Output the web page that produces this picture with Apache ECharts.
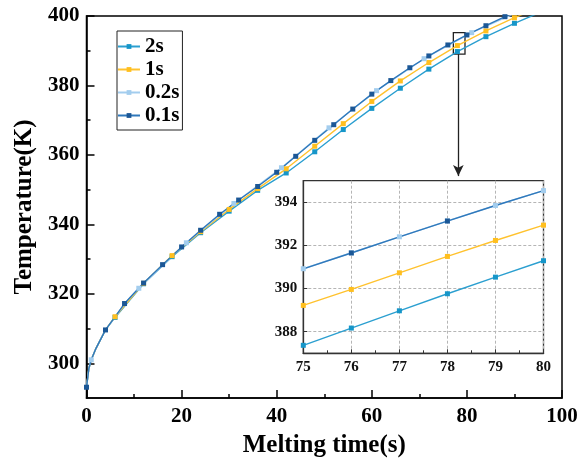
<!DOCTYPE html>
<html>
<head>
<meta charset="utf-8">
<script src="https://cdn.jsdelivr.net/npm/echarts@6/dist/echarts.min.js"></script>
<style>
  html, body { margin: 0; padding: 0; background: #fff; }
  #chart { width: 587px; height: 463px; }
</style>
</head>
<body>
<div id="chart"></div>
<script>
// ---------- data ----------
const seriesNames = ['2s', '1s', '0.2s', '0.1s'];

// main chart: 2s
const time2 = [0, 0.5, 1, 2, 4, 6, 12, 18, 24, 30, 36, 42, 48, 54, 60, 66, 72, 78, 84, 90, 96];
const temp2 = [293.1, 298.5, 301.0, 304.3, 309.6, 313.2, 322.9, 330.7, 337.6, 343.8, 349.8, 354.8, 360.9, 367.3, 373.4, 379.2, 384.7, 389.76, 394.05, 397.9, 401.4];
const marks2 = [6, 12, 18, 24, 30, 36, 42, 48, 54, 60, 66, 72, 78, 84, 90];

// main chart: 1s
const time1 = [0, 0.5, 1, 2, 4, 6, 12, 18, 24, 30, 36, 42, 48, 54, 60, 66, 72, 78, 84, 90, 96];
const temp1 = [293.1, 298.5, 301.0, 304.3, 309.6, 313.4, 323.0, 331.0, 337.9, 344.3, 350.3, 356.0, 362.5, 369.0, 375.4, 381.3, 386.6, 391.49, 395.7, 399.5, 403.0];
const marks1 = [6, 12, 18, 24, 30, 36, 42, 48, 54, 60, 66, 72, 78, 84, 90];

// main chart: 0.2s
const time02 = [0, 0.5, 1, 2, 4, 6, 8, 11, 21, 31, 41, 51, 61, 71, 81, 91];
const temp02 = [293.1, 298.5, 301.0, 304.3, 309.6, 313.3, 317.2, 321.6, 334.7, 346.0, 356.3, 367.8, 378.5, 387.7, 395.2, 401.3];
const marks02 = [1, 11, 21, 31, 41, 51, 61, 71, 81, 91];

// main chart: 0.1s
const time01 = [0, 0.5, 1, 2, 4, 8, 12, 16, 20, 24, 28, 32, 36, 40, 44, 48, 52, 56, 60, 64, 68, 72, 76, 80, 84, 88, 92];
const temp01 = [293.1, 298.5, 301.0, 304.3, 309.6, 317.2, 323.1, 328.4, 333.5, 338.3, 342.9, 347.0, 350.9, 355.0, 359.6, 364.2, 368.7, 373.2, 377.5, 381.4, 385.1, 388.5, 391.66, 394.54, 397.2, 399.8, 402.3];
const marks01 = [0, 4, 8, 12, 16, 20, 24, 28, 32, 36, 40, 44, 48, 52, 56, 60, 64, 68, 72, 76, 80, 84, 88];

// inset (zoom 75-80 s)
const insetTime = [75, 76, 77, 78, 79, 80];
const inset2 = [387.37, 388.17, 388.97, 389.76, 390.53, 391.29];
const inset1 = [389.22, 389.96, 390.73, 391.49, 392.23, 392.94];
const inset02 = [390.92, 391.66, 392.40, 393.14, 393.85, 394.54];
const inset01 = [390.91, 391.65, 392.40, 393.13, 393.85, 394.54];
const insetMarks02 = [75, 76, 77, 78, 79, 80];
const insetMarks01 = [76, 78];

// tick labels
const mainXTicks = [0, 20, 40, 60, 80, 100];
const mainYMajor = [300, 320, 340, 360, 380, 400];
const mainYMinor = [310, 330, 350, 370, 390];
const insetYTicks = [388, 390, 392, 394];

// zoom box and arrow (data coordinates of the annotation)
const zoomBox = [[77.15, 389.0], [79.6, 395.2]];
const arrowFrom = [78.2, 389.0];
const arrowTo = [78.2, 353.9];

// ---------- styling ----------
const FONT = "'Liberation Serif', 'Times New Roman', serif";
const lineColors = ['#2b9fd0', '#ffc22e', '#a3cdee', '#2f78bb'];
const markColors = ['#1696c9', '#ffbf1f', '#a3cdee', '#1b5796'];

function build(times, temps, marks) {
  return times.map((t, i) => ({
    value: [t, temps[i]],
    symbol: marks.indexOf(t) >= 0 ? 'rect' : 'none'
  }));
}

function mkSeries(idx, times, temps, marks, xi, yi, extra) {
  return Object.assign({
    name: seriesNames[idx],
    type: 'line',
    xAxisIndex: xi,
    yAxisIndex: yi,
    data: build(times, temps, marks),
    symbol: 'rect',
    symbolSize: 5,
    showAllSymbol: true,
    smooth: false,
    clip: true,
    lineStyle: { color: lineColors[idx], width: 1.4 },
    itemStyle: { color: markColors[idx] },
    emphasis: { disabled: true },
    animation: false
  }, extra || {});
}

const chart = echarts.init(document.getElementById('chart'), null, { renderer: 'canvas' });

const option = {
  animation: false,
  backgroundColor: '#fff',
  textStyle: { fontFamily: FONT },
  grid: [
    { left: 86.5, top: 16, width: 475.5, height: 383, show: true, borderColor: '#000', borderWidth: 1.5, backgroundColor: 'transparent' },
    { left: 303.3, top: 180.7, width: 240.2, height: 172.6, show: true, borderColor: '#333', borderWidth: 1.3, backgroundColor: '#fff', z: 5 }
  ],
  legend: {
    data: seriesNames,
    orient: 'vertical',
    left: 117,
    top: 31,
    borderColor: '#222',
    borderWidth: 1,
    padding: [5, 3, 4, 0],
    itemWidth: 22,
    itemHeight: 6,
    itemGap: 2,
    textStyle: { fontFamily: FONT, fontWeight: 'bold', fontSize: 21, color: '#000', lineHeight: 21 }
  },
  xAxis: [
    {
      type: 'value', gridIndex: 0, min: 0, max: 100, interval: 20,
      name: 'Melting time(s)', nameLocation: 'middle', nameGap: 35,
      nameTextStyle: { fontFamily: FONT, fontWeight: 'bold', fontSize: 25, color: '#000' },
      axisLine: { show: true, lineStyle: { color: '#000', width: 1.5 } },
      axisTick: { show: true, inside: true, length: 8, lineStyle: { color: '#000', width: 1.5 } },
      minorTick: { show: true, splitNumber: 2, length: 4, lineStyle: { color: '#000', width: 1.5 } },
      axisLabel: { margin: 8, fontFamily: FONT, fontWeight: 'bold', fontSize: 21, color: '#000' },
      splitLine: { show: false }
    },
    {
      type: 'value', gridIndex: 1, min: 75, max: 80, interval: 1,
      axisLine: { show: true, lineStyle: { color: '#333', width: 1.3 } },
      axisTick: { show: true, inside: true, length: 4, lineStyle: { color: '#333', width: 1 } },
      minorTick: { show: true, splitNumber: 2, length: 3, lineStyle: { color: '#333', width: 1 } },
      axisLabel: { margin: 6, fontFamily: FONT, fontWeight: 'bold', fontSize: 15, color: '#111' },
      splitLine: { show: true, lineStyle: { color: '#b5b5b5', type: [3, 2], width: 1 } },
      z: 6
    }
  ],
  yAxis: [
    {
      type: 'value', gridIndex: 0, min: 290, max: 400,
      name: 'Temperature(K)', nameLocation: 'middle', nameGap: 48,
      nameTextStyle: { fontFamily: FONT, fontWeight: 'bold', fontSize: 25, color: '#000' },
      axisLine: { show: true, lineStyle: { color: '#000', width: 1.5 } },
      axisTick: { show: true, inside: true, length: 8, customValues: mainYMajor, lineStyle: { color: '#000', width: 1.5 } },
      axisLabel: { margin: 7, customValues: mainYMajor, fontFamily: FONT, fontWeight: 'bold', fontSize: 21, color: '#000' },
      splitLine: { show: false }
    },
    {
      type: 'value', gridIndex: 0, min: 290, max: 400, position: 'left',
      axisLine: { show: false },
      axisTick: { show: true, inside: true, length: 4, customValues: mainYMinor, lineStyle: { color: '#000', width: 1.5 } },
      axisLabel: { show: false },
      splitLine: { show: false }
    },
    {
      type: 'value', gridIndex: 1, min: 387, max: 395,
      axisLine: { show: true, lineStyle: { color: '#333', width: 1.3 } },
      axisTick: { show: true, inside: true, length: 4, customValues: insetYTicks, lineStyle: { color: '#333', width: 1 } },
      axisLabel: { margin: 6, customValues: insetYTicks, fontFamily: FONT, fontWeight: 'bold', fontSize: 15, color: '#111' },
      splitLine: { show: true, lineStyle: { color: '#b5b5b5', type: [3, 2], width: 1 } },
      z: 6
    }
  ],
  series: [
    mkSeries(0, time2, temp2, marks2, 0, 0),
    mkSeries(1, time1, temp1, marks1, 0, 0),
    mkSeries(2, time02, temp02, marks02, 0, 0),
    mkSeries(3, time01, temp01, marks01, 0, 0, {
      markArea: {
        silent: true,
        itemStyle: { color: 'rgba(0,0,0,0)', borderColor: '#222', borderWidth: 1.3 },
        data: [[{ coord: zoomBox[0] }, { coord: zoomBox[1] }]]
      },
      markLine: {
        silent: true,
        symbol: ['none', 'arrow'],
        symbolSize: [8, 11],
        label: { show: false },
        lineStyle: { color: '#222', width: 1.3, type: 'solid' },
        data: [[{ coord: arrowFrom }, { coord: arrowTo }]]
      }
    }),
    mkSeries(0, insetTime, inset2, insetTime, 1, 2, { z: 7 }),
    mkSeries(1, insetTime, inset1, insetTime, 1, 2, { z: 7 }),
    mkSeries(2, insetTime, inset02, insetMarks02, 1, 2, { z: 7 }),
    mkSeries(3, insetTime, inset01, insetMarks01, 1, 2, { z: 7 })
  ]
};

chart.setOption(option);
</script>
</body>
</html>
